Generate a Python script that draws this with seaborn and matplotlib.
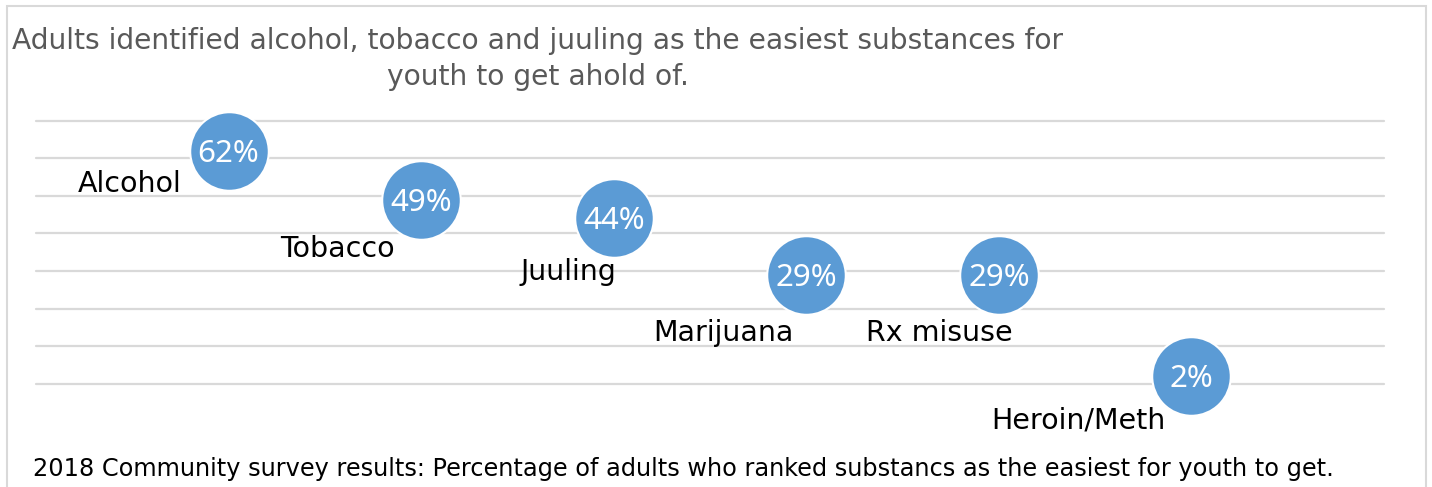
import matplotlib
matplotlib.use("Agg")
import matplotlib.pyplot as plt
import seaborn as sns
import pandas as pd
from matplotlib.patches import Rectangle

# ---- data ----
substances = ["Alcohol", "Tobacco", "Juuling", "Marijuana", "Rx misuse", "Heroin/Meth"]
percent = [62, 49, 44, 29, 29, 2]
title_lines = ["Adults identified alcohol, tobacco and juuling as the easiest substances for",
               "youth to get ahold of."]
footnote = ("2018 Community survey results: Percentage of adults who ranked substancs "
            "as the easiest for youth to get.")

# label placement (pixels, right edge / baseline relative to bubble centre)
label_dx = [-47, -26, 3, -13, 14, -26]
label_dy = [-41, -57, -62, -66, -66, -52]

sns.set_theme(style="white")
plt.rcParams["font.family"] = ["DejaVu Sans"]

W, H = 1432, 487
fig = plt.figure(figsize=(W / 100, H / 100), dpi=100)
fig.patch.set_facecolor("white")

ax = fig.add_axes([36 / W, 1 - 383.7 / H, (1384 - 36) / W, (383.7 - 120.7) / H])

df = pd.DataFrame({"pos": list(range(1, len(substances) + 1)), "pct": percent, "sub": substances})
sns.scatterplot(data=df, x="pos", y="pct", s=3200, color="#5B9BD5", edgecolor="white",
                linewidth=1.5, ax=ax, clip_on=False, zorder=3, legend=False)

ax.set_xlim(0, 7)
ax.set_ylim(0, 70)
ax.set_yticks(range(0, 71, 10))
ax.set_xticks([])
ax.yaxis.grid(True, color="#D9D9D9", linewidth=1.6)
for gl in ax.get_ygridlines():
    gl.set_clip_on(False)
ax.set_axisbelow(True)
ax.tick_params(left=False, labelleft=False, bottom=False, labelbottom=False)
for sp in ax.spines.values():
    sp.set_visible(False)
ax.set_xlabel("")
ax.set_ylabel("")

for i, (x, y, name) in enumerate(zip(df["pos"], df["pct"], df["sub"])):
    ax.annotate(f"{y}%", (x, y), xytext=(0, -11), textcoords="offset pixels",
                ha="center", va="baseline", color="white", fontsize=22.5,
                family="Noto Sans", zorder=5, annotation_clip=False)
    ax.annotate(name, (x, y), xytext=(label_dx[i], label_dy[i]), textcoords="offset pixels",
                ha="right", va="baseline", color="black", fontsize=20.5,
                zorder=5, annotation_clip=False)

# title
fig.text(538 / W, 1 - 49 / H, title_lines[0], ha="center", va="baseline",
         color="#595959", fontsize=20.25)
fig.text(538 / W, 1 - 85 / H, title_lines[1], ha="center", va="baseline",
         color="#595959", fontsize=20.25)

# footnote
fig.text(33 / W, 1 - 476 / H, footnote, ha="left", va="baseline",
         color="black", fontsize=17.25)

# outer border
fig.patches.append(Rectangle((7 / W, -0.05), (1426 - 7) / W, 1.05 - 6 / H,
                             transform=fig.transFigure, fill=False,
                             edgecolor="#D9D9D9", linewidth=1.5, zorder=0))

fig.savefig("out.png", dpi=100)
